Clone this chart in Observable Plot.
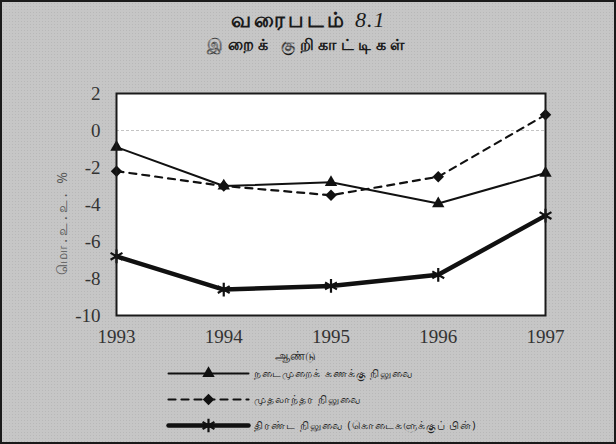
<!DOCTYPE html>
<html>
<head>
<meta charset="utf-8">
<script src="https://cdn.jsdelivr.net/npm/d3@7"></script>
<script src="https://cdn.jsdelivr.net/npm/@observablehq/plot@0.6"></script>
<style>
  html, body { margin: 0; padding: 0; background: #c6c6c6; }
  #fig { position: relative; width: 616px; height: 444px; box-sizing: border-box;
         border: 2px solid #1a1a1a; background: #c6c6c6; overflow: hidden;
         background-image: radial-gradient(#b8b8b8 0.6px, transparent 0.7px);
         background-size: 3px 3px; }
  #title { position: absolute; left: 0; width: 612px; top: 4px; text-align: center;
           font-family: "Noto Sans", "DejaVu Sans", sans-serif; color: #1a1a1a; }
  #title .t1 { font-size: 21px; font-weight: bold; line-height: 27px; letter-spacing: 3px; }
  #title .t1 i { font-family: "Liberation Serif", serif; font-size: 22px; font-weight: normal; letter-spacing: 1px; }
  #title .t2 { font-size: 16px; font-weight: bold; line-height: 22px; letter-spacing: 4.5px; }
  #chart { position: absolute; left: 0; top: 0; }
  #ylabel { position: absolute; left: 60px; top: 220px; transform: translate(-50%, -50%) rotate(-90deg);
            white-space: nowrap; font-family: "Noto Sans", "DejaVu Sans", sans-serif; font-size: 14px;
            color: #555; letter-spacing: 3px; }
  #legend { position: absolute; left: 166px; top: 358px; font-family: "Noto Sans", "DejaVu Sans", sans-serif;
            font-size: 10.5px; color: #222; letter-spacing: 1px; }
  .row { display: flex; align-items: center; height: 26px; }
  .row span { margin-left: 6px; line-height: 12px; }
</style>
</head>
<body>
<div id="fig">
  <div id="chart"></div>
  <div id="title">
    <div class="t1">வரைபடம் <i>8.1</i></div>
    <div class="t2">இறைக் குறிகாட்டிகள்</div>
  </div>
  <div id="ylabel"></div>
  <div id="legend"></div>
</div>
<script>
const years = [1993, 1994, 1995, 1996, 1997];
const currentAccount = [-0.9, -3.0, -2.8, -3.95, -2.3];
const primaryBalance = [-2.2, -3.0, -3.5, -2.5, 0.85];
const overallBalance = [-6.8, -8.6, -8.4, -7.8, -4.6];
const yTicks = [2, 0, -2, -4, -6, -8, -10];
const seriesNames = [
  "நடைமுறைக் கணக்கு நிலுவை",
  "முதலாந்தர நிலுவை",
  "திரண்ட நிலுவை (கொடைகளுக்குப் பின்)"
];
const yLabel = "மொ.உ.உ. %";
const xLabel = "ஆண்டு";

document.getElementById("ylabel").textContent = yLabel;

const styles = [
  {values: currentAccount, symbol: "triangle", width: 2, dash: null, r: 4.6, fill: "#111", stroke: "none", sw: 0},
  {values: primaryBalance, symbol: "diamond2", width: 2.2, dash: "7,6", r: 5.2, fill: "#111", stroke: "none", sw: 0},
  {values: overallBalance, symbol: "asterisk", width: 4.5, dash: null, r: 6.5, fill: "none", stroke: "#111", sw: 2.2}
];

const data = [];
styles.forEach((s, i) => years.forEach((y, j) => data.push({series: seriesNames[i], year: y, value: s.values[j]})));

const marks = [
  Plot.frame({fill: "white"}),
  Plot.ruleY([0], {stroke: "#c4c4c4", strokeDasharray: "3,2", strokeWidth: 1}),
];
styles.forEach((s, i) => {
  const d = data.filter(e => e.series === seriesNames[i]);
  marks.push(Plot.line(d, {x: "year", y: "value", stroke: "#111", strokeWidth: s.width, strokeDasharray: s.dash}));
  marks.push(Plot.dot(d, {x: "year", y: "value", symbol: () => s.symbol, r: s.r, fill: s.fill, stroke: s.stroke, strokeWidth: s.sw}));
});
marks.push(Plot.frame({stroke: "#1a1a1a", strokeWidth: 2}));
marks.push(Plot.axisX({ticks: years, tickFormat: d => String(d), tickSize: 0, tickPadding: 14,
  fontSize: 19, fill: "#333", fontFamily: "Liberation Serif", label: null}));
marks.push(Plot.axisY({ticks: yTicks, tickFormat: d => String(d), tickSize: 0, tickPadding: 16,
  fontSize: 19, fill: "#333", fontFamily: "Liberation Serif", label: null}));
marks.push(Plot.text([xLabel], {frameAnchor: "bottom", dy: 44, dx: -36, text: d => d, fontSize: 11.5, fill: "#222", fontFamily: "Noto Sans"}));

const chart = Plot.plot({
  width: 612, height: 380,
  marginLeft: 114, marginRight: 69, marginTop: 91, marginBottom: 67,
  style: {background: "transparent", overflow: "visible"},
  x: {type: "linear", domain: [1993, 1997]},
  y: {domain: [-10, 2]},
  marks
});
document.getElementById("chart").appendChild(chart);

// legend
const legend = document.getElementById("legend");
styles.forEach((s, i) => {
  const row = document.createElement("div");
  row.className = "row";
  const sw = Plot.plot({
    width: 80, height: 20, margin: 0, axis: null,
    x: {domain: [0, 2]}, y: {domain: [0, 1]},
    style: {background: "transparent", overflow: "visible"},
    marks: [
      Plot.line([[0, 0.5], [2, 0.5]], {stroke: "#111", strokeWidth: s.width, strokeDasharray: s.dash}),
      Plot.dot([[1, 0.5]], {symbol: () => s.symbol, r: s.r, fill: s.fill, stroke: s.stroke, strokeWidth: s.sw})
    ]
  });
  row.appendChild(sw);
  const t = document.createElement("span");
  t.textContent = seriesNames[i];
  row.appendChild(t);
  legend.appendChild(row);
});
</script>
</body>
</html>
